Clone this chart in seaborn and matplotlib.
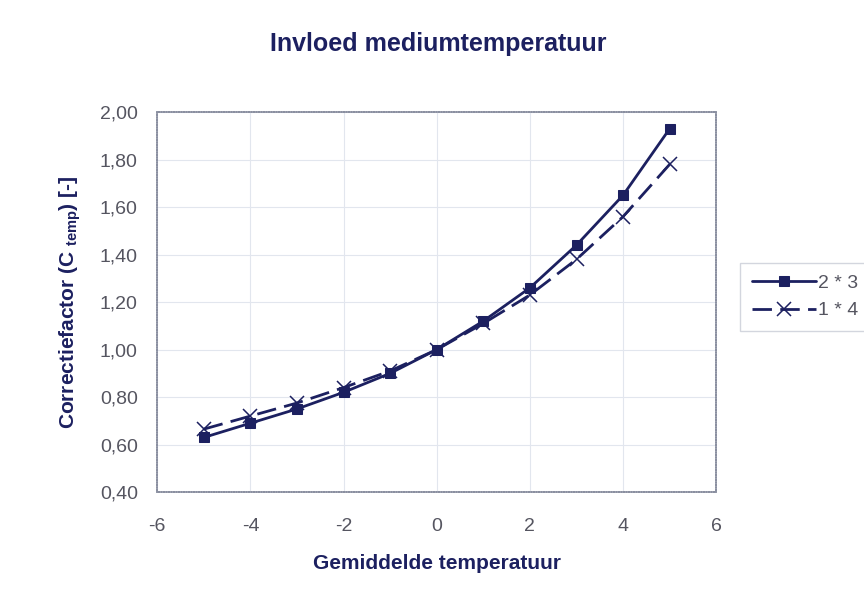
import pandas as pd
import matplotlib
matplotlib.use("Agg")
import matplotlib.pyplot as plt
import seaborn as sns
from matplotlib.ticker import FuncFormatter, MultipleLocator

# data
temperatuur = [-5, -4, -3, -2, -1, 0, 1, 2, 3, 4, 5]
serie_2x3 = [0.63, 0.69, 0.75, 0.82, 0.90, 1.00, 1.12, 1.26, 1.44, 1.65, 1.93]
serie_1x4 = [0.665, 0.72, 0.775, 0.84, 0.91, 1.00, 1.11, 1.23, 1.38, 1.56, 1.78]

df = pd.DataFrame({"temp": temperatuur + temperatuur,
                   "c": serie_2x3 + serie_1x4,
                   "serie": ["2 * 3"] * 11 + ["1 * 4"] * 11})

sns.set_style("white")
plt.rcParams["font.family"] = ["Liberation Sans", "DejaVu Sans"]

navy = "#1c2060"
grey = "#555560"

fig = plt.figure(figsize=(8.64, 5.9), dpi=100)
ax = fig.add_axes([0.182, 0.166, 0.647, 0.644])

sns.lineplot(data=df[df.serie == "2 * 3"], x="temp", y="c", ax=ax, color=navy,
             lw=2, marker="s", markersize=7.5, markeredgecolor=navy, label="2 * 3")
sns.lineplot(data=df[df.serie == "1 * 4"], x="temp", y="c", ax=ax, color=navy,
             lw=2, dashes=(7, 3), marker="x", markersize=10, markeredgewidth=1.1,
             markeredgecolor=navy, label="1 * 4")

ax.set_xlim(-6, 6)
ax.set_ylim(0.4, 2.0)
ax.xaxis.set_major_locator(MultipleLocator(2))
ax.yaxis.set_major_locator(MultipleLocator(0.2))
ax.yaxis.set_major_formatter(FuncFormatter(lambda v, p: f"{v:.2f}".replace(".", ",")))
ax.xaxis.set_major_formatter(FuncFormatter(lambda v, p: f"{v:.0f}"))
ax.tick_params(labelsize=14, colors=grey, length=0)
ax.tick_params(axis="x", pad=19)
ax.tick_params(axis="y", pad=14)
ax.grid(True, color="#e2e6ee", lw=0.8)
for s in ax.spines.values():
    s.set_color("#8a8fa0")
    s.set_linestyle((0, (1, 0.5)))
    s.set_linewidth(1.2)

ax.set_xlabel("Gemiddelde temperatuur", fontsize=15, fontweight="bold", color=navy, labelpad=13)
ax.set_ylabel(r"Correctiefactor (C $_{\mathregular{temp}}$) [-]", fontsize=15,
              fontweight="bold", color=navy, labelpad=12)
fig.text(0.507, 0.926, "Invloed mediumtemperatuur", fontsize=18, fontweight="bold",
         color=navy, ha="center", va="center")

leg = ax.legend(loc="center left", bbox_to_anchor=(740 / 864, 1 - 297 / 590),
                bbox_transform=fig.transFigure, fontsize=14, frameon=True,
                fancybox=False, edgecolor="#c8ccd6", handlelength=3.3,
                handletextpad=0.1, borderpad=0.6, labelspacing=0.5,
                borderaxespad=0)
for t in leg.get_texts():
    t.set_color(grey)

fig.savefig("out.png", dpi=100)
